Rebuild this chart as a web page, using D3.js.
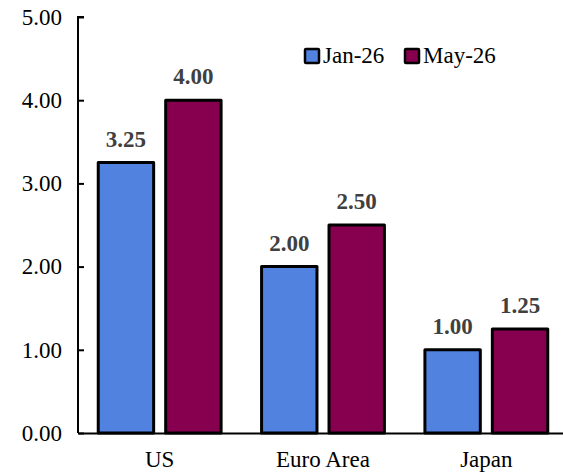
<!DOCTYPE html>
<html>
<head>
<script src="https://cdn.jsdelivr.net/npm/d3@7"></script>
</head>
<body style="margin:0">
<svg id="chart" width="563" height="472"></svg>
<script>
// Policy rate by economy, two snapshots
const categories = ["US", "Euro Area", "Japan"];
const seriesNames = ["Jan-26", "May-26"];
const jan26 = [3.25, 2.00, 1.00];
const may26 = [4.00, 2.50, 1.25];
const yTicks = [0, 1, 2, 3, 4, 5];
const colors = ["#5282E0", "#870050"];

const svg = d3.select("#chart");
const margin = { left: 78, top: 17, bottom: 39 };
const plotW = 490;
const height = 472;

const x = d3.scaleBand().domain(categories).range([margin.left, margin.left + plotW]).padding(0);
const x1 = d3.scaleBand().domain(seriesNames).range([0, x.bandwidth()]).paddingInner(0.134).paddingOuter(0.278);
const y = d3.scaleLinear().domain([0, 5]).range([height - margin.bottom, margin.top]);

const rows = categories.map((c, i) => ({ cat: c, vals: [jan26[i], may26[i]] }));

// Bars
const groups = svg.append("g").selectAll("g").data(rows).join("g")
  .attr("transform", d => `translate(${x(d.cat)},0)`);

groups.selectAll("rect").data(d => d.vals.map((v, j) => ({ v, s: seriesNames[j], j })))
  .join("rect")
  .attr("x", d => x1(d.s) + 1.5)
  .attr("width", x1.bandwidth() - 3)
  .attr("y", d => y(d.v))
  .attr("height", d => y(0) - y(d.v))
  .attr("fill", d => colors[d.j])
  .attr("stroke", "#000")
  .attr("stroke-width", 3)
  .attr("stroke-linejoin", "round");

// Y axis
const yAxis = svg.append("g")
  .attr("transform", `translate(${margin.left},0)`)
  .call(d3.axisRight(y).tickValues(yTicks).tickSize(6).tickFormat(d3.format(".2f")));
yAxis.attr("font-family", null).attr("font-size", null);
yAxis.select(".domain").attr("stroke", "#000").attr("stroke-width", 2).attr("d", `M${6},${y(5)}H0V${y(0)}`);
yAxis.selectAll(".tick line").attr("stroke", "#000").attr("stroke-width", 2);
yAxis.selectAll(".tick text").attr("x", -16).attr("text-anchor", "end").attr("fill", "#000");

// X axis
const xAxis = svg.append("g")
  .attr("transform", `translate(0,${y(0)})`)
  .call(d3.axisBottom(x).tickSize(0));
xAxis.attr("font-family", null).attr("font-size", null);
xAxis.select(".domain").attr("stroke", "#000").attr("stroke-width", 2);
xAxis.selectAll(".tick text").attr("y", 34).attr("dy", null).attr("fill", "#000");

// Value labels
const labels = svg.append("g");
rows.forEach(r => {
  labels.selectAll(null).data(r.vals.map((v, j) => ({ v, s: seriesNames[j] })))
    .join("text")
    .attr("x", d => x(r.cat) + x1(d.s) + x1.bandwidth() / 2)
    .attr("y", d => y(d.v) - 16)
    .attr("text-anchor", "middle")
    .style("font-weight", "bold")
    .attr("fill", "#404040")
    .text(d => d3.format(".2f")(d.v));
});

// Legend
const legendX = [305, 405];
const legend = svg.append("g");
legend.selectAll("rect").data(seriesNames).join("rect")
  .attr("x", (d, j) => legendX[j]).attr("y", 49)
  .attr("width", 14).attr("height", 14)
  .attr("fill", (d, j) => colors[j]).attr("stroke", "#000").attr("stroke-width", 2.5).attr("rx", 1);
legend.selectAll("text").data(seriesNames).join("text")
  .attr("x", (d, j) => legendX[j] + 18).attr("y", 63)
  .attr("fill", "#000").text(d => d);

// Typeface for every label
svg.selectAll("text")
  .style("font-family", "Times New Roman")
  .style("font-size", "23px");
</script>
</body>
</html>
